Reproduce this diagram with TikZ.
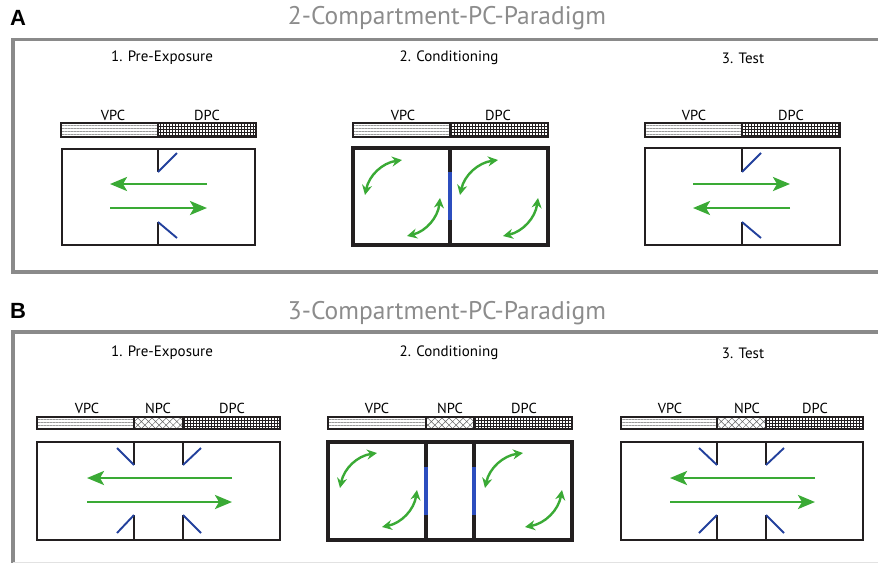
\documentclass[tikz,border=0pt]{standalone}
\usepackage{fontspec}
\setmainfont{PT Sans}
\newfontfamily\panelfont{Liberation Sans}
\usetikzlibrary{arrows.meta,patterns.meta}
\definecolor{framegray}{HTML}{8A8A8A}
\definecolor{titlegray}{HTML}{8C8C8C}
\definecolor{wallblack}{HTML}{231F20}
\definecolor{doorblue}{HTML}{22409C}
\definecolor{gateblue}{HTML}{2C4DBE}
\definecolor{movegreen}{HTML}{3AAA35}
\tikzdeclarepattern{
  name=dpcgrid,
  type=uncolored,
  bottom left={(-.1pt,-.1pt)},
  top right={(3.1pt,3.1pt)},
  tile size={(3pt,3pt)},
  code={\draw[line width=1.5pt] (1.5pt,0pt)--(1.5pt,3pt) (0pt,1.5pt)--(3pt,1.5pt);}
}
\tikzset{
  frame/.style={framegray,line width=3.5pt},
  wall/.style={wallblack,line width=1.9pt},
  thickwall/.style={wallblack,line width=3.2pt},
  door/.style={doorblue,line width=1.9pt},
  gate/.style={gateblue,line width=3.2pt},
  move/.style={movegreen,line width=2.6pt,-{Stealth[length=17pt,width=14pt,inset=4pt]}},
  swap/.style={movegreen,line width=2.4pt,{Stealth[length=10pt,width=10pt]}-{Stealth[length=10pt,width=10pt]}},
  vpc/.style={draw=wallblack,line width=1.2pt,pattern={Lines[distance=3pt,line width=0.5pt]},pattern color=gray!80},
  npc/.style={draw=wallblack,line width=1.2pt,pattern={Hatch[angle=45,distance=5pt,line width=0.5pt]},pattern color=gray!80!black},
  dpc/.style={draw=wallblack,line width=1.2pt,pattern=dpcgrid,pattern color=wallblack},
  lbl/.style={font=\fontsize{14.5}{16}\selectfont},
  phase/.style={font=\fontsize{15}{17}\selectfont},
  title/.style={titlegray,font=\fontsize{25.5}{28}\selectfont},
  letter/.style={font=\panelfont\bfseries\fontsize{22}{24}\selectfont},
}
\begin{document}
\begin{tikzpicture}[x=1pt,y=-1pt,line join=miter]
\useasboundingbox (0,0) rectangle (878,563);
% frames and titles
\draw[frame] (878,39.5)--(13,39.5)--(13,272)--(878,272);
\draw[frame] (878,332)--(13,332)--(13,563);
\draw[framegray!25,line width=1.5pt] (13,562.5)--(878,562.5);
\node[letter] (letA) at (18,18) {A};
\node[letter] (letB) at (18,311) {B};
\node[title] (titA) at (447,18) {2-Compartment-PC-Paradigm};
\node[title] (titB) at (447,313) {3-Compartment-PC-Paradigm};
\node[phase] (phA1) at (162,58) {1. Pre-Exposure};
\node[phase] (phA2) at (449,58) {2. Conditioning};
\node[phase] (phA3) at (743,58) {3. Test};
\node[phase] (phB1) at (162,353) {1. Pre-Exposure};
\node[phase] (phB2) at (449,353) {2. Conditioning};
\node[phase] (phB3) at (743,353) {3. Test};
%
% A1: pre-exposure
\draw[vpc] (61,123) rectangle (158,137);
\draw[dpc] (158,123) rectangle (256,137);
\node[lbl] (a1v) at (113,115) {VPC};
\node[lbl] (a1d) at (207,115) {DPC};
\draw[wall] (62,149) rectangle (255,245);
\draw[wall] (158,149)--(158,172) (158,222)--(158,245);
\draw[door] (158,172)--(177,153) (158,222)--(177,238);
\draw[move] (207,184)--(110,184);
\draw[move] (110,208)--(207,208);
%
% A2: conditioning
\draw[vpc] (353,123) rectangle (450,137);
\draw[dpc] (450,123) rectangle (548,137);
\node[lbl] (a2v) at (403,115) {VPC};
\node[lbl] (a2d) at (498,115) {DPC};
\draw[thickwall] (353,148) rectangle (548,245);
\draw[thickwall] (450,148)--(450,172) (450,220)--(450,245);
\draw[gate] (450,172)--(450,220);
\draw[swap] (365,195) to[bend left=35] (402,160);
\draw[swap] (407,236) to[bend right=35] (440,198);
\draw[swap] (460,195) to[bend left=35] (498,160);
\draw[swap] (503,236) to[bend right=35] (538,198);
%
% A3: test
\draw[vpc] (645,123) rectangle (742,137);
\draw[dpc] (742,123) rectangle (840,137);
\node[lbl] (a3v) at (694,115) {VPC};
\node[lbl] (a3d) at (791,115) {DPC};
\draw[wall] (645,148) rectangle (840,245);
\draw[wall] (742,148)--(742,172) (742,222)--(742,245);
\draw[door] (742,172)--(761,153) (742,222)--(761,238);
\draw[move] (693,184)--(790,184);
\draw[move] (790,208)--(693,208);
%
% B1: pre-exposure
\draw[vpc] (37,417) rectangle (134,429);
\draw[npc] (134,417) rectangle (183,429);
\draw[dpc] (183,417) rectangle (280,429);
\node[lbl] (b1v) at (87,408) {VPC};
\node[lbl] (b1n) at (158,408) {NPC};
\node[lbl] (b1d) at (232,408) {DPC};
\draw[wall] (37,442) rectangle (280,540);
\draw[wall] (134,442)--(134,465) (134,515)--(134,540);
\draw[wall] (183,442)--(183,465) (183,515)--(183,540);
\draw[door] (134,465)--(117,448) (134,515)--(117,533);
\draw[door] (183,465)--(201,448) (183,515)--(201,533);
\draw[move] (232,478)--(87,478);
\draw[move] (87,502)--(232,502);
%
% B2: conditioning
\draw[vpc] (328,417) rectangle (426,429);
\draw[npc] (426,417) rectangle (474,429);
\draw[dpc] (474,417) rectangle (572,429);
\node[lbl] (b2v) at (377,408) {VPC};
\node[lbl] (b2n) at (450,408) {NPC};
\node[lbl] (b2d) at (524,408) {DPC};
\draw[thickwall] (328,442) rectangle (572,540);
\draw[thickwall] (426,442)--(426,467) (426,515)--(426,540);
\draw[thickwall] (474,442)--(474,467) (474,515)--(474,540);
\draw[gate] (426,467)--(426,515) (474,467)--(474,515);
\draw[swap] (340,488) to[bend left=35] (377,453);
\draw[swap] (382,527) to[bend right=35] (417,490);
\draw[swap] (485,488) to[bend left=35] (523,453);
\draw[swap] (525,527) to[bend right=35] (562,490);
%
% B3: test
\draw[vpc] (621,417) rectangle (717,429);
\draw[npc] (717,417) rectangle (766,429);
\draw[dpc] (766,417) rectangle (863,429);
\node[lbl] (b3v) at (670,408) {VPC};
\node[lbl] (b3n) at (747,408) {NPC};
\node[lbl] (b3d) at (815,408) {DPC};
\draw[wall] (621,442) rectangle (863,540);
\draw[wall] (717,442)--(717,465) (717,515)--(717,540);
\draw[wall] (766,442)--(766,465) (766,515)--(766,540);
\draw[door] (717,465)--(699,448) (717,515)--(699,533);
\draw[door] (766,465)--(784,448) (766,515)--(784,533);
\draw[move] (815,478)--(670,478);
\draw[move] (670,502)--(815,502);
\end{tikzpicture}
\end{document}
